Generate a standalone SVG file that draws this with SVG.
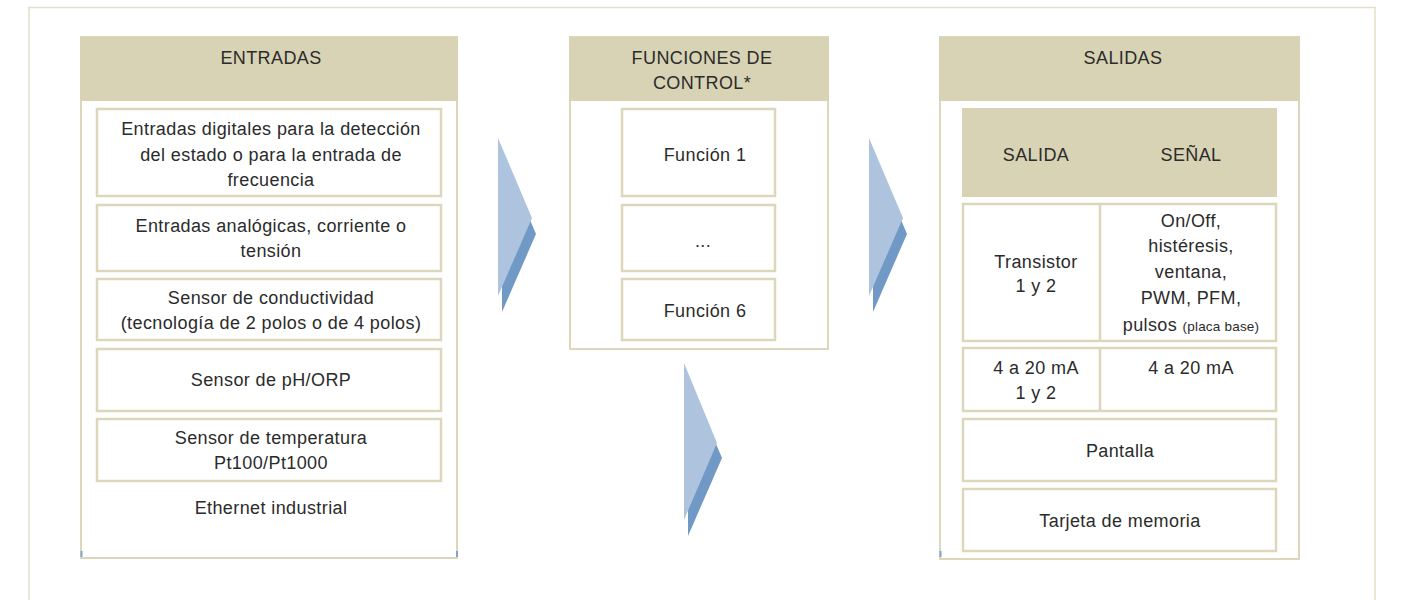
<svg xmlns="http://www.w3.org/2000/svg" width="1403" height="600" viewBox="0 0 1403 600">
<style>
text{font-family:"Liberation Sans",Arial,sans-serif;font-size:18px;letter-spacing:0.4px;fill:#2b2b2b;text-anchor:middle}
.small{font-size:13.5px;letter-spacing:0.2px}
.frame{fill:none;stroke:#e3dfc6;stroke-width:1.5}
.panel{fill:#fff;stroke:#dcd7ba;stroke-width:2}
.head{fill:#d8d3b4}
.box{fill:#fff;stroke:#dcd7ba;stroke-width:2.5}
.light{fill:#aec3de}
.dark{fill:#7199c6}
.tick{fill:#7fa3d0}
</style>
<rect x="0" y="0" width="1403" height="600" fill="#fff"/>
<path class="frame" d="M29,600 V7.5 H1375 V600"/>

<g id="entradas">
<rect class="panel" x="81" y="37" width="376" height="521"/>
<rect class="head" x="80" y="37" width="378" height="64"/>
<text x="271" y="64">ENTRADAS</text>
<rect class="box" x="97" y="109" width="344" height="87"/>
<text x="271" y="135">Entradas digitales para la detección</text>
<text x="271" y="161">del estado o para la entrada de</text>
<text x="271" y="186">frecuencia</text>
<rect class="box" x="97" y="205" width="344" height="66"/>
<text x="271" y="232">Entradas analógicas, corriente o</text>
<text x="271" y="257">tensión</text>
<rect class="box" x="97" y="279" width="344" height="61"/>
<text x="271" y="304">Sensor de conductividad</text>
<text x="271" y="329">(tecnología de 2 polos o de 4 polos)</text>
<rect class="box" x="97" y="349" width="344" height="62"/>
<text x="271" y="386">Sensor de pH/ORP</text>
<rect class="box" x="97" y="419" width="344" height="62"/>
<text x="271" y="444">Sensor de temperatura</text>
<text x="271" y="469">Pt100/Pt1000</text>
<text x="271" y="514">Ethernet industrial</text>
<rect class="tick" x="80.5" y="551" width="2" height="6"/>
<rect class="tick" x="456" y="551" width="2" height="6"/>
</g>

<g id="funciones">
<rect class="panel" x="570" y="37" width="258" height="312"/>
<rect class="head" x="569" y="37" width="260" height="64"/>
<text x="702" y="64">FUNCIONES DE</text>
<text x="702" y="89">CONTROL*</text>
<rect class="box" x="622" y="109" width="153" height="87"/>
<text x="705" y="161">Función 1</text>
<rect class="box" x="622" y="205" width="153" height="66"/>
<text x="703" y="247">...</text>
<rect class="box" x="622" y="279" width="153" height="61"/>
<text x="705" y="317">Función 6</text>
</g>

<g id="salidas">
<rect class="panel" x="940" y="37" width="359" height="522"/>
<rect class="head" x="939" y="37" width="361" height="64"/>
<text x="1123" y="64">SALIDAS</text>
<rect class="head" x="962" y="108" width="315" height="89"/>
<text x="1036" y="161">SALIDA</text>
<text x="1191" y="161">SEÑAL</text>
<rect class="box" x="963" y="204" width="313" height="137"/>
<line x1="1100" y1="204" x2="1100" y2="341" stroke="#dcd7ba" stroke-width="2.5"/>
<text x="1036" y="268">Transistor</text>
<text x="1036" y="292">1 y 2</text>
<text x="1191" y="227">On/Off,</text>
<text x="1191" y="252">histéresis,</text>
<text x="1191" y="278">ventana,</text>
<text x="1191" y="304">PWM, PFM,</text>
<text x="1191" y="331">pulsos <tspan class="small">(placa base)</tspan></text>
<rect class="box" x="963" y="348" width="313" height="63"/>
<line x1="1100" y1="348" x2="1100" y2="411" stroke="#dcd7ba" stroke-width="2.5"/>
<text x="1036" y="374">4 a 20 mA</text>
<text x="1036" y="399">1 y 2</text>
<text x="1191" y="374">4 a 20 mA</text>
<rect class="box" x="963" y="419" width="313" height="62"/>
<text x="1120" y="457">Pantalla</text>
<rect class="box" x="963" y="489" width="313" height="62"/>
<text x="1120" y="527">Tarjeta de memoria</text>
<rect class="tick" x="939.5" y="551" width="2" height="6"/>
</g>

<g id="connectors">
<polygon class="dark" points="502,154 536,234 502,312"/>
<polygon class="light" points="498,138 532,218 498,296"/>
<polygon class="dark" points="873,154 907,234 873,312"/>
<polygon class="light" points="869,138 903,218 869,296"/>
<polygon class="dark" points="688,378 722,458 688,536"/>
<polygon class="light" points="684,363 717,443 684,520"/>
</g>
</svg>
